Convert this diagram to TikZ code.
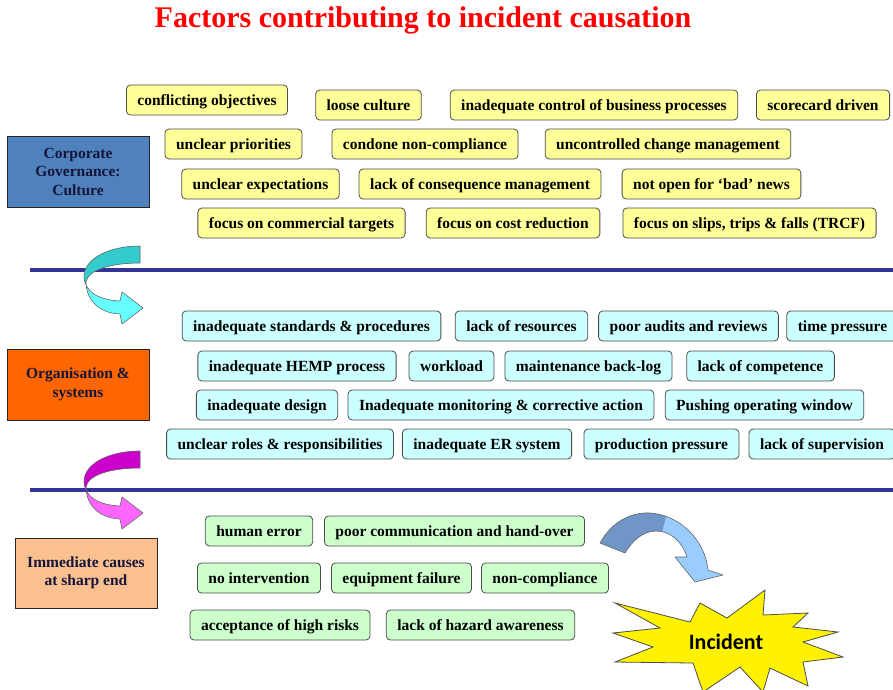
\documentclass[tikz,border=0pt]{standalone}
\usepackage{fontspec}
\setmainfont{Liberation Serif}
\newfontfamily\burstfont{Carlito}
\definecolor{titlered}{HTML}{FF0000}
\definecolor{cgyellow}{HTML}{FFFF99}
\definecolor{oscyan}{HTML}{CCFFFF}
\definecolor{icgreen}{HTML}{CCFFCC}
\definecolor{cgblue}{HTML}{4F81BD}
\definecolor{osorange}{HTML}{FF6600}
\definecolor{icpeach}{HTML}{FAC090}
\definecolor{levelink}{HTML}{15153A}
\definecolor{divider}{HTML}{333399}
\definecolor{curlteal}{HTML}{33CCCC}
\definecolor{curlcyan}{HTML}{66FFFF}
\definecolor{curlpurple}{HTML}{CC00CC}
\definecolor{curlpink}{HTML}{FF66FF}
\definecolor{bowdark}{HTML}{6F96C6}
\definecolor{bowlight}{HTML}{99CCFF}
\tikzset{
  factor/.style={draw=black!70, line width=0.8pt, rounded corners=4pt,
    minimum height=30pt, inner xsep=11pt, inner ysep=2pt,
    text height=13pt, text depth=3pt,
    font=\bfseries\fontsize{15.5}{18}\selectfont, text=black},
  cgbox/.style={factor, fill=cgyellow},
  osbox/.style={factor, fill=oscyan},
  icbox/.style={factor, fill=icgreen},
  levelbox/.style={draw=black!85, line width=0.8pt, minimum width=142pt,
    minimum height=71pt, align=center, text=levelink,
    font=\bfseries\fontsize{15.5}{18.5}\selectfont},
  divline/.style={draw=divider, line width=4pt},
  curl/.style={draw=black!60, line width=0.6pt, line join=round}
}
% curled ribbon arrow between levels
\def\curlpath{(140,246) .. controls (110,246) and (84,258) .. (84,277)
  .. controls (85,293) and (100,300) .. (120,301) -- (122,292) -- (143,308)
  -- (122,324) -- (120,314) .. controls (97,313) and (86,298) .. (86,282)
  .. controls (88,270) and (110,263) .. (140,263) -- cycle}
% bent arrow towards the incident
\def\bowpath{(600,543) .. controls (612,521) and (632,512) .. (650,513)
  .. controls (680,515) and (705,540) .. (708,570) -- (723,575) -- (695,582)
  -- (675,557) -- (687,557) .. controls (682,541) and (670,531) .. (656,531)
  .. controls (643,531) and (632,541) .. (625,553) -- cycle}
\begin{document}
\begin{tikzpicture}[x=1pt,y=-1pt]
  \useasboundingbox (0,0) rectangle (893,689);
  \clip (0,0) rectangle (893,689);

  \node[font=\bfseries\fontsize{30}{32}\selectfont, text=titlered] (title) at (423,20)
    {Factors contributing to incident causation};

  % the three levels
  \node[levelbox, fill=cgblue] (govern) at (78,171.5) {Corporate\\Governance:\\Culture};
  \node[levelbox, fill=osorange] (organ) at (78,384.5) {Organisation \&\\systems};
  \node[levelbox, fill=icpeach, minimum height=70pt] (immed) at (86,573) {Immediate causes\\at sharp end};

  \draw[divline] (30,270) -- (893,270);
  \draw[divline] (30,490) -- (893,490);

  % corporate governance
  \foreach \x/\y/\t [count=\i] in {207/100/conflicting objectives, 368.5/105/loose culture,
      594/105/inadequate control of business processes, 823/105/scorecard driven,
      233.5/144/unclear priorities, 425/144/condone non-compliance,
      668/144/uncontrolled change management,
      260.5/184/unclear expectations, 480/184/lack of consequence management,
      711.5/184/not open for ‘bad’ news,
      301.5/223/focus on commercial targets, 513/223/focus on cost reduction,
      749.5/223/{focus on slips, trips \& falls (TRCF)}}
    \node[cgbox] (cg\i) at (\x,\y) {\t};

  % organisation and systems
  \foreach \x/\y/\t [count=\i] in {311.5/326/inadequate standards \& procedures,
      521.5/326/lack of resources, 688.5/326/poor audits and reviews, 842.5/326/time pressure,
      297/366/inadequate HEMP process, 451.5/366/workload,
      588.5/366/maintenance back-log, 760.5/366/lack of competence,
      267/405/inadequate design, 501/405/Inadequate monitoring \& corrective action,
      764.5/405/Pushing operating window,
      280/444/unclear roles \& responsibilities, 487/444/inadequate ER system,
      661.5/444/production pressure, 822/444/lack of supervision}
    \node[osbox] (os\i) at (\x,\y) {\t};

  % immediate causes
  \foreach \x/\y/\t [count=\i] in {259/531/human error,
      454.5/531/poor communication and hand-over,
      259/578/no intervention, 401.5/578/equipment failure, 545/578/non-compliance,
      280/625/acceptance of high risks, 480.5/625/lack of hazard awareness}
    \node[icbox] (ic\i) at (\x,\y) {\t};

  % curls between the levels
  \foreach \dy/\dark/\light in {0/curlteal/curlcyan, 205/curlpurple/curlpink} {
    \begin{scope}[yshift=-\dy pt]
      \fill[\light] \curlpath;
      \begin{scope}
        \clip (78,238) -- (150,238) -- (150,262) -- (86,282) -- (78,282) -- cycle;
        \fill[\dark] \curlpath;
      \end{scope}
      \draw[curl] \curlpath;
    \end{scope}
  }

  % bent arrow and incident burst
  \fill[bowlight] \bowpath;
  \begin{scope}
    \clip (590,500) -- (670,500) -- (659,545) -- (590,565) -- cycle;
    \fill[bowdark] \bowpath;
  \end{scope}
  \draw[curl] \bowpath;

  \draw[fill=yellow, draw=black!70, line width=0.8pt, line join=miter]
    (615,603) -- (690,622) -- (700,603) -- (727,618) -- (765,590) -- (763,615)
    -- (808,613) -- (793,627) -- (838,632) -- (803,642) -- (843,657) -- (803,662)
    -- (808,686) -- (770,668) -- (763,692) -- (740,667) -- (703,692) -- (693,663)
    -- (615,662) -- (653,647) -- (613,633) -- (660,628) -- cycle;
  \node[font=\burstfont\bfseries\fontsize{22}{24}\selectfont] (incident) at (726,642) {Incident};
\end{tikzpicture}
\end{document}
